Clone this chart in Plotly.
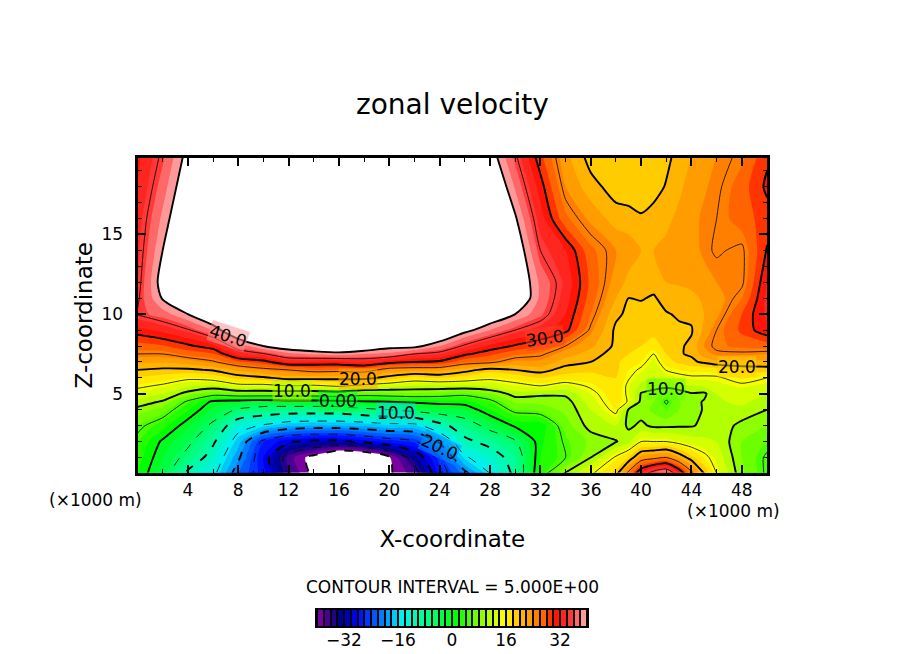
import numpy as np
import plotly.graph_objects as go

# grid, km
x_km = [0, 2, 4, 6, 8, 10, 12, 14, 16, 18, 20, 22, 24, 26, 28, 30, 32, 34, 36, 38, 39, 40, 41, 42, 43, 44, 45, 46, 48, 50]
z_km = [0, 1, 2, 3, 4, 4.5, 5, 5.5, 6, 6.5, 7, 7.5, 8, 9, 10, 11, 12, 14, 16, 18, 20]

# zonal velocity, one list per x position (bottom to top)
u_x00 = [2, 3, 4, 5.9, 9.3, 11.3, 13.5, 15.7, 17.8, 20, 22.5, 25, 27, 31.2, 35.2, 34.6, 34, 33.5, 33, 32, 31.5]
u_x02 = [-3, -1.8, -0.5, 2.9, 7.1, 9.7, 12, 14.5, 17, 19.5, 22.2, 25, 27.8, 32.7, 37, 40.3, 41.5, 40, 38.5, 37, 35.5]
u_x04 = [-11, -6.5, -4, -1.5, 2.2, 4.4, 9, 12.5, 15.7, 19.5, 23, 26.7, 29.5, 34.7, 40, 44, 46, 46, 44, 42.5, 41]
u_x06 = [-14, -12, -9.3, -5.9, -2.4, -0.7, 6.5, 11.7, 16.5, 20.3, 24.6, 27.8, 31.3, 38.2, 44, 48, 50, 50, 50, 48, 46]
u_x08 = [-22, -19.4, -17, -13.3, -5.5, -1.5, 7.5, 14, 18.7, 22.5, 27.5, 33, 36.7, 44, 48, 50, 50, 50, 50, 50, 50]
u_x10 = [-27, -28, -26, -15.5, -7, -2, 7.5, 14, 19.5, 24, 29, 34.7, 40, 47, 50, 50, 50, 50, 50, 50, 50]
u_x12 = [-35.5, -37, -29.5, -17.5, -7.5, -1.5, 7.5, 15, 21, 25, 32.5, 37.5, 42, 48, 50, 50, 50, 50, 50, 50, 50]
u_x14 = [-41, -41.5, -31, -18, -7.5, -1.5, 7.5, 14.5, 21, 26.2, 32, 38.5, 43, 48, 50, 50, 50, 50, 50, 50, 50]
u_x16 = [-50, -47, -31, -18, -7.5, -1, 8, 15.5, 21, 26, 32, 39, 44, 48, 50, 50, 50, 50, 50, 50, 50]
u_x18 = [-50, -46, -29, -17.5, -6, -0.3, 6.5, 14, 21, 26.5, 33, 38, 43, 48, 50, 50, 50, 50, 50, 50, 50]
u_x20 = [-40.4, -40.4, -27, -16.5, -5, 0, 7, 13, 19, 23.5, 31, 37.5, 41, 47, 50, 50, 50, 50, 50, 50, 50]
u_x22 = [-37, -33, -25.5, -16.5, -3.5, 0.5, 7.5, 12, 17, 23, 30, 35, 41, 47, 50, 50, 50, 50, 50, 50, 50]
u_x24 = [-27, -25, -19.5, -11.5, -2.5, 1, 7, 12, 18, 23, 29.5, 34, 38, 45, 49, 50, 50, 50, 50, 50, 50]
u_x26 = [-21, -15.5, -11, -7.5, -2, 1.3, 6, 12, 17, 21, 26.5, 30.5, 34.5, 41, 46, 50, 50, 50, 50, 50, 48]
u_x28 = [-15, -12.5, -8.5, -3.5, 2, 4, 7.8, 12.5, 15.7, 19, 25.7, 28.5, 31.5, 38, 43, 47, 50, 50, 48, 44.3, 41.6]
u_x30 = [-9, -8, -5.5, 0.5, 6, 8.5, 11, 14, 16.5, 20, 23.5, 26.5, 29.7, 35, 40, 43.7, 43.5, 42.7, 40.4, 37.7, 35.3]
u_x32 = [3, 2, 1.5, 0.7, 6.8, 8.6, 10.5, 15, 18, 21, 23.5, 25.5, 28, 33, 36.5, 37.5, 37.5, 35, 33, 31, 28.5]
u_x34 = [10.5, 5, 5.5, 7, 8.5, 9, 10.5, 13.5, 17, 19, 21, 23, 25, 30.8, 32, 33, 33.5, 32, 26.5, 24, 22.5]
u_x36 = [14.5, 10, 8.5, 11, 12, 13, 14, 15.5, 17, 18.5, 20, 21, 22.5, 24.5, 26, 27, 27.5, 26.5, 23.5, 20.8, 19]
u_x38 = [19, 15.5, 9.8, 12, 16, 17, 17.5, 18, 18, 18.5, 18.5, 19, 19.5, 19.5, 20.5, 22, 23, 24, 21, 19, 18.5]
u_x39 = [26, 18, 11.5, 9.5, 9.8, 14.7, 14.3, 14.2, 15.3, 16, 17, 18, 18.8, 19, 19.5, 20, 21.5, 23, 21, 18.5, 18.5]
u_x40 = [33, 23, 15, 10.5, 9, 9.3, 9.8, 11.5, 13, 14.5, 16, 17, 18, 18.5, 19, 20.2, 21.5, 22, 20.3, 18.5, 18.5]
u_x41 = [37, 24, 15, 9.5, 7.5, 8, 9, 11, 11.8, 12.5, 13.5, 15, 17, 18.8, 19.3, 19.7, 21, 22, 21, 19, 18.5]
u_x42 = [39, 25, 15, 9.5, 6, 4.5, 7, 11, 13, 15.2, 17, 18, 18.7, 19.3, 19.8, 21, 22, 22.5, 21.5, 20.2, 19.3]
u_x43 = [33, 22, 14, 9.7, 8, 7.8, 8.5, 11.5, 14, 16, 18.5, 19.8, 19.7, 19.6, 20.3, 21.2, 22.2, 22.8, 22.5, 21.5, 20.8]
u_x44 = [26, 18.7, 13, 9.8, 9, 9.2, 9.8, 12, 14.5, 16.5, 19.5, 20.3, 20.4, 19.8, 20.5, 21.5, 22.5, 23, 23.5, 23, 22]
u_x45 = [20, 16, 12.5, 10.5, 10.2, 10.2, 9.5, 12.5, 14.5, 16.5, 20.5, 23, 24, 22.5, 22, 22.3, 23, 24.5, 24.3, 23.8, 23]
u_x46 = [15, 13.5, 12, 11.5, 11.5, 11.7, 12, 13.5, 14.5, 17, 21.5, 24.5, 25.6, 25, 23.5, 23, 24, 25.3, 25, 24.5, 24]
u_x48 = [8.5, 8, 8, 9.3, 11.5, 12.5, 13, 14.3, 16.5, 18.7, 21.5, 24.5, 26.5, 28.5, 28, 26, 24.5, 24.5, 27, 27, 25.5]
u_x50 = [4.5, 4.5, 6, 8, 10, 11, 12, 13.5, 15, 19, 21.5, 24, 27, 31.5, 32.5, 32.5, 32, 30.2, 29, 30.5, 29.5]

u = np.array([u_x00, u_x02, u_x04, u_x06, u_x08, u_x10, u_x12, u_x14, u_x16, u_x18, u_x20, u_x22, u_x24,
              u_x26, u_x28, u_x30, u_x32, u_x34, u_x36, u_x38, u_x39, u_x40, u_x41, u_x42, u_x43, u_x44,
              u_x45, u_x46, u_x48, u_x50]).T

# contour labels on the lines
label_text = ["40.0", "30.0", "20.0", "10.0", "0.00", "10.0", "20.0", "10.0", "20.0"]
label_x = [7.2, 32.4, 17.5, 12.3, 15.9, 20.5, 24, 42, 47.6]
label_z = [8.6, 8.5, 5.94, 5.19, 4.56, 3.81, 1.69, 5.3, 6.7]
label_angle = [18, -8, 0, 0, 0, 0, 25, 0, 0]
label_bg = ["rgba(255,144,144,0.55)", "rgba(255,64,32,0.55)", "rgba(255,168,0,0.55)", "rgba(168,255,0,0.55)",
            "rgba(0,255,48,0.55)", "rgba(0,224,224,0.55)", "rgba(0,144,255,0.55)", "rgba(96,255,0,0.55)",
            "rgba(255,208,0,0.55)"]

cbar_levels = list(range(-39, 41, 2))
cbar_ticks = [-32, -16, 0, 16, 32]

# value, colour; outside +-40 stays white
color_stops = [(-41, "#ffffff"), (-39, "#7a00a0"), (-36, "#30008c"), (-33, "#000090"), (-28, "#0000ff"),
               (-19, "#00a0ff"), (-15, "#00f0f0"), (-8, "#00ff90"), (1, "#00ff00"), (10, "#a0ff00"),
               (15.5, "#ffff00"), (19, "#ffcc00"), (23, "#ff9c00"), (27, "#ff6400"), (30.5, "#ff1000"),
               (35, "#ff3838"), (39, "#ff9898"), (41, "#ffffff")]
colorscale = [[(v + 41) / 82, c] for v, c in color_stops]


# page has an 8px body margin, so shift everything back by that
def to_xdom(px):
    return (px - 8) / 904


def to_ydom(py):
    return 1 - (py - 8) / 654


fig = go.Figure()

fig.add_trace(go.Contour(x=x_km, y=z_km, z=u, colorscale=colorscale, showscale=False,
                         contours=dict(coloring="fill", start=-40, end=40, size=2),
                         line=dict(width=0, smoothing=0.7), hoverinfo="skip"))

# thin/thick and solid/dashed lines, each its own trace
line_sets = [(5, 35, 10, 0.8, "solid"), (0, 40, 10, 1.9, "solid"),
             (-35, -5, 10, 0.8, "dash"), (-40, -10, 10, 1.9, "dash")]
for lo, hi, step, width, dash in line_sets:
    fig.add_trace(go.Contour(x=x_km, y=z_km, z=u, showscale=False,
                             contours=dict(coloring="none", start=lo, end=hi, size=step),
                             line=dict(color="black", width=width, dash=dash, smoothing=0.7),
                             hoverinfo="skip"))

fig.add_trace(go.Heatmap(x=cbar_levels, y=[0], z=[cbar_levels], xgap=2, colorscale=colorscale,
                         zmin=-41, zmax=41, showscale=False, hoverinfo="skip", xaxis="x2", yaxis="y2"))

font = "DejaVu Sans"
for t, lx, lz, a, bg in zip(label_text, label_x, label_z, label_angle, label_bg):
    fig.add_annotation(x=lx, y=lz, text=t, textangle=a, showarrow=False, bgcolor=bg, borderpad=0,
                       font=dict(family=font, size=17, color="black"))

paper_text = [("zonal velocity", 452, 104, 28), ("CONTOUR INTERVAL = 5.000E+00", 452, 587, 17),
              ("(×1000 m)", 95, 500, 17), ("(×1000 m)", 733, 511, 17)]
for t, px, py, size in paper_text:
    fig.add_annotation(x=to_xdom(px), y=to_ydom(py), xref="paper", yref="paper", text=t, showarrow=False,
                       xanchor="center", yanchor="middle", font=dict(family=font, size=size, color="black"))

frame = dict(showline=True, linecolor="black", linewidth=3, mirror="allticks", ticks="inside",
             tickcolor="black", tickwidth=2, ticklen=8, showgrid=False, zeroline=False,
             tickfont=dict(family=font, size=17, color="black"))

fig.update_layout(
    width=904, height=654, margin=dict(l=0, r=0, t=0, b=0), paper_bgcolor="white", plot_bgcolor="white",
    showlegend=False,
    xaxis=dict(frame, domain=[to_xdom(137.5), to_xdom(767)], range=[0, 50], ticklabelstandoff=0,
               minor=dict(dtick=2, ticks="inside", ticklen=4, tickcolor="black", tickwidth=1),
               tickvals=list(range(4, 50, 4)),
               title=dict(text="X-coordinate", font=dict(family=font, size=23, color="black"), standoff=32)),
    yaxis=dict(frame, domain=[to_ydom(472.5), to_ydom(158)], range=[0.06, 19.8], tickvals=[5, 10, 15], ticklabelstandoff=8,
               minor=dict(dtick=1, ticks="inside", ticklen=4, tickcolor="black", tickwidth=1),
               title=dict(text="Z-coordinate", font=dict(family=font, size=23, color="black"), standoff=3)),
    xaxis2=dict(domain=[to_xdom(317), to_xdom(587)], range=[-40, 40], anchor="y2", tickvals=cbar_ticks,
                ticktext=["−32", "−16", "0", "16", "32"], ticks="", showline=True, linecolor="black", linewidth=2,
                mirror=True, showgrid=False, zeroline=False, ticklabelstandoff=-2,
                tickfont=dict(family=font, size=17, color="black")),
    yaxis2=dict(domain=[to_ydom(626), to_ydom(610)], range=[-0.5, 0.5], anchor="x2", showticklabels=False, ticks="",
                showline=True, linecolor="black", linewidth=2, mirror=True, showgrid=False, zeroline=False),
)
# black shows through the gaps between colour bar bands
fig.add_shape(type="rect", xref="x2 domain", yref="y2 domain", x0=0, x1=1, y0=0, y1=1,
              fillcolor="black", line_width=0, layer="below")

fig.write_html("out.html")
